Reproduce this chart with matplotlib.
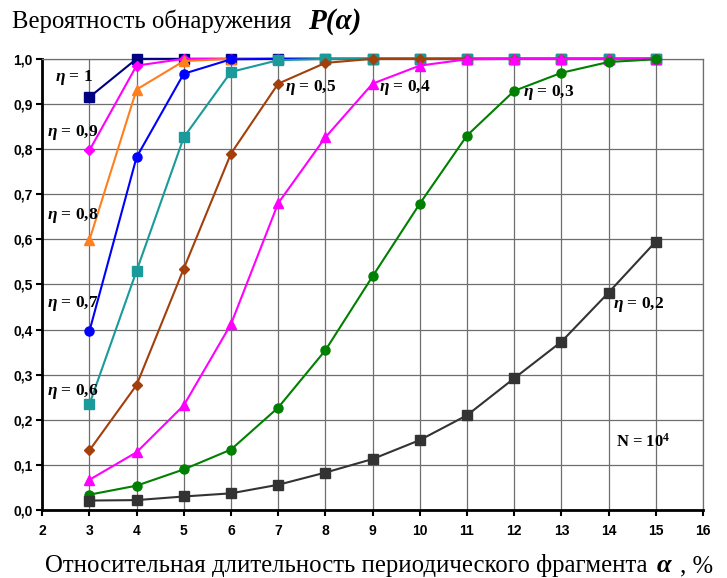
import matplotlib
matplotlib.use("Agg")
import matplotlib.pyplot as plt

# Data
alpha = [3, 4, 5, 6, 7, 8, 9, 10, 11, 12, 13, 14, 15]

p_10 = [0.915, 1.0, 1.0, 1.0, 1.0, 1.0, 1.0, 1.0, 1.0, 1.0, 1.0, 1.0, 1.0]
p_09 = [0.797, 0.985, 1.0, 1.0, 1.0, 1.0, 1.0, 1.0, 1.0, 1.0, 1.0, 1.0, 1.0]
p_08 = [0.598, 0.932, 0.995, 1.0, 1.0, 1.0, 1.0, 1.0, 1.0, 1.0, 1.0, 1.0, 1.0]
p_07 = [0.396, 0.782, 0.967, 0.999, 1.0, 1.0, 1.0, 1.0, 1.0, 1.0, 1.0, 1.0, 1.0]
p_06 = [0.234, 0.530, 0.826, 0.971, 0.997, 1.0, 1.0, 1.0, 1.0, 1.0, 1.0, 1.0, 1.0]
p_05 = [0.132, 0.277, 0.535, 0.790, 0.945, 0.991, 1.0, 1.0, 1.0, 1.0, 1.0, 1.0, 1.0]
p_04 = [0.067, 0.128, 0.232, 0.412, 0.680, 0.826, 0.945, 0.985, 0.999, 1.0, 1.0, 1.0, 1.0]
p_03 = [0.034, 0.054, 0.090, 0.134, 0.227, 0.354, 0.518, 0.679, 0.830, 0.929, 0.969, 0.993, 0.999]
p_02 = [0.021, 0.022, 0.030, 0.037, 0.056, 0.083, 0.113, 0.155, 0.210, 0.292, 0.373, 0.482, 0.595]

x_ticks = list(range(2, 17))
y_ticks = [i / 10 for i in range(11)]
y_tick_labels = ["0,0", "0,1", "0,2", "0,3", "0,4", "0,5", "0,6", "0,7", "0,8", "0,9", "1,0"]

series = [
    (p_10, "#000080", "s"),
    (p_09, "#ff00ff", "D"),
    (p_08, "#ff7f1e", "^"),
    (p_07, "#0000ff", "o"),
    (p_06, "#1a9a9a", "s"),
    (p_05, "#a33f0b", "D"),
    (p_04, "#ff00ff", "^"),
    (p_03, "#008000", "o"),
    (p_02, "#333333", "s"),
]

# curve labels: (eta value, x, y, ha)
labels = [
    ("1", 2.28, 0.958, "left"),
    ("0,9", 2.10, 0.836, "left"),
    ("0,8", 2.10, 0.652, "left"),
    ("0,7", 2.10, 0.457, "left"),
    ("0,6", 2.10, 0.262, "left"),
    ("0,5", 7.68, 0.936, "center"),
    ("0,4", 9.69, 0.936, "center"),
    ("0,3", 12.72, 0.925, "center"),
    ("0,2", 14.63, 0.455, "center"),
]

serif = "Liberation Serif"
plt.rcParams["mathtext.fontset"] = "custom"
plt.rcParams["mathtext.it"] = "Liberation Serif:italic:bold"
plt.rcParams["mathtext.rm"] = "Liberation Serif:bold"
plt.rcParams["mathtext.bf"] = "Liberation Serif:bold"

fig = plt.figure(figsize=(7.27, 5.78), dpi=100)
ax = fig.add_axes([0.058, 0.1176, 0.909, 0.7806])

for vals, col, mk in series:
    ms = 6.5 if mk in ("s", "o", "^") else 5.5
    ax.plot(alpha, vals, color=col, marker=mk, markersize=ms, linewidth=1.5,
            clip_on=False, zorder=3)

ax.set_xlim(2, 16)
ax.set_ylim(0, 1.0)
ax.set_xticks(x_ticks)
ax.set_yticks(y_ticks)
ax.set_yticklabels(y_tick_labels)
ax.grid(True, color="#6e6e6e", linewidth=0.9)
ax.set_axisbelow(True)

for lbl in ax.get_xticklabels() + ax.get_yticklabels():
    lbl.set_fontfamily("Liberation Sans")
    lbl.set_fontweight("bold")
    lbl.set_fontsize(10)
ax.tick_params(axis="both", direction="out", length=4, width=1.5, colors="black")
ax.tick_params(axis="x", pad=6)
ax.tick_params(axis="y", pad=3)

for side in ("left", "bottom"):
    ax.spines[side].set_linewidth(2)
    ax.spines[side].set_color("black")
for side in ("top", "right"):
    ax.spines[side].set_linewidth(0.9)
    ax.spines[side].set_color("#6e6e6e")

# eta labels
for txt, x, y, ha in labels:
    ax.text(x, y, r"$\eta$ = " + txt, fontfamily=serif, fontsize=12.5,
            fontweight="bold", ha=ha, va="center", zorder=5)

ax.text(14.73, 0.151, "N = 10$^{4}$", fontfamily=serif, fontsize=12,
        fontweight="bold", ha="center", va="center", zorder=5)

# Title and axis label
fig.text(12 / 727, 1 - 28 / 578, "Вероятность обнаружения", fontfamily=serif,
         fontsize=17.8, va="baseline", ha="left")
fig.text(308 / 727, 1 - 29 / 578, "P(α)", fontfamily=serif, fontsize=21,
         fontweight="bold", fontstyle="italic", va="baseline", ha="left")

fig.text(45 / 727, 1 - 572 / 578, "Относительная длительность периодического фрагмента",
         fontfamily=serif, fontsize=17.8, va="baseline", ha="left")
fig.text(657 / 727, 1 - 572 / 578, "α", fontfamily=serif, fontsize=19,
         fontweight="bold", fontstyle="italic", va="baseline", ha="left")
fig.text(680 / 727, 1 - 572 / 578, ", %", fontfamily=serif, fontsize=17.8,
         va="baseline", ha="left")

fig.savefig("out.png", dpi=100)
